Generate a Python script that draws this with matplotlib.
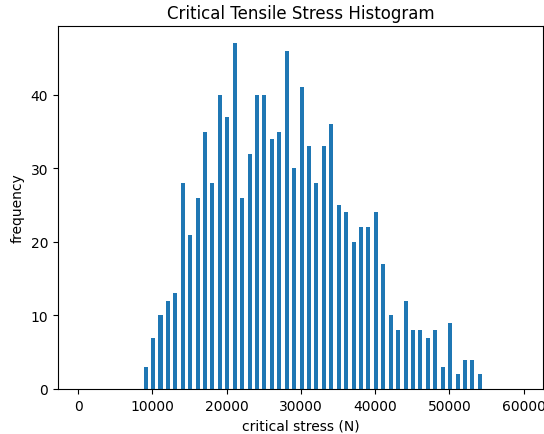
import matplotlib
matplotlib.use('Agg')
import matplotlib.pyplot as plt

# Центри бінів (Н) та частоти
bin_centers = [9100 + 1000 * i for i in range(46)]
frequencies = [3, 7, 10, 12, 13, 28, 21, 26, 35, 28,
               40, 37, 47, 26, 32, 40, 40, 34, 35, 46,
               30, 41, 33, 28, 33, 36, 25, 24, 20, 22,
               22, 24, 17, 10, 8, 12, 8, 8, 7, 8,
               3, 9, 2, 4, 4, 2]
x_ticks = [0, 10000, 20000, 30000, 40000, 50000, 60000]

fig = plt.figure(figsize=(5.44, 4.35), dpi=100)
ax = fig.add_axes([58 / 544, 45 / 435, 485 / 544, 363 / 435])

ax.bar(bin_centers, frequencies, width=540, color='#1f77b4')

ax.set_xlim(-2700, 62600)
ax.set_ylim(0, 49.35)
ax.set_xticks(x_ticks)
ax.set_title('Critical Tensile Stress Histogram')
ax.set_xlabel('critical stress (N)')
ax.set_ylabel('frequency')

fig.savefig('out.png', dpi=100)
